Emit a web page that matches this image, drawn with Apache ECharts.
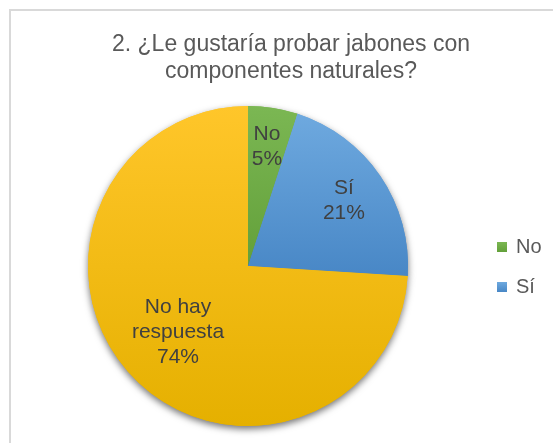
<!DOCTYPE html>
<html>
<head>
<meta charset="utf-8">
<script src="https://cdn.jsdelivr.net/npm/echarts@6/dist/echarts.min.js"></script>
<style>
  html, body { margin: 0; padding: 0; background: #ffffff; }
  #chart { width: 553px; height: 443px; }
</style>
</head>
<body>
<div id="chart"></div>
<script>
// Survey answers, question 2
const categories = ['No', 'Sí', 'No hay respuesta'];
const percents = [5, 21, 74];
// Text lines used inside each slice (before the percentage)
const sliceLabelLines = [['No'], ['Sí'], ['No hay', 'respuesta']];
const legendNames = ['No', 'Sí'];
const titleText = '2. ¿Le gustaría probar jabones con\ncomponentes naturales?';

// Fill colours, light at the top of each slice, darker at the bottom
const sliceColors = [
  ['#7bb753', '#63a03a'],
  ['#6ea9df', '#4887c6'],
  ['#ffc62a', '#e5b000']
];

const FONT = "'Liberation Sans', Arial, sans-serif";
const CENTER = [248, 266];
const RADIUS = 160;
// Inner radius of the (invisible) ring that positions each slice label
const labelRingInner = [76, 66, 26];

function gradient(pair) {
  return new echarts.graphic.LinearGradient(0, 0, 0, 1, [
    { offset: 0, color: pair[0] },
    { offset: 1, color: pair[1] }
  ]);
}

const pieData = categories.map((name, i) => ({
  name: name,
  value: percents[i],
  itemStyle: { color: gradient(sliceColors[i]) }
}));

const baseSeries = {
  type: 'pie',
  center: CENTER,
  startAngle: 90,
  clockwise: true,
  avoidLabelOverlap: false,
  labelLine: { show: false },
  emphasis: { disabled: true },
  animation: false
};

// Shadow layer underneath the pie
const shadowSeries = Object.assign({}, baseSeries, {
  name: 'sombra',
  radius: [0, RADIUS],
  silent: true,
  label: { show: false },
  data: pieData.map(d => ({
    name: d.name,
    value: d.value,
    itemStyle: {
      color: d.itemStyle.color,
      shadowBlur: 7,
      shadowOffsetX: 0,
      shadowOffsetY: 3,
      shadowColor: 'rgba(0,0,0,0.55)'
    }
  }))
});

// The visible slices
const mainSeries = Object.assign({}, baseSeries, {
  name: 'respuestas',
  radius: [0, RADIUS],
  label: { show: false },
  data: pieData
});

// One transparent ring per slice label, so each label sits at its own distance
const labelSeries = categories.map((_, k) => Object.assign({}, baseSeries, {
  name: 'etiqueta' + k,
  radius: [labelRingInner[k], RADIUS],
  silent: true,
  z: 3,
  data: categories.map((name, i) => ({
    name: name,
    value: percents[i],
    itemStyle: { color: 'rgba(0,0,0,0)' },
    label: {
      show: i === k,
      position: 'inside',
      color: '#404040',
      fontFamily: FONT,
      fontSize: 21,
      lineHeight: 25,
      align: 'center',
      formatter: p => sliceLabelLines[p.dataIndex].concat([p.value + '%']).join('\n')
    }
  }))
}));

const chart = echarts.init(document.getElementById('chart'), null, { renderer: 'canvas' });
chart.setOption({
  backgroundColor: '#ffffff',
  animation: false,
  title: {
    text: titleText,
    left: 291,
    top: 31,
    padding: 0,
    textAlign: 'center',
    textStyle: {
      color: '#595959',
      fontFamily: FONT,
      fontSize: 23,
      fontWeight: 'normal',
      lineHeight: 27
    }
  },
  legend: {
    data: legendNames,
    orient: 'vertical',
    left: 497,
    top: 237,
    itemWidth: 10,
    itemHeight: 10,
    itemGap: 20,
    icon: 'rect',
    selectedMode: false,
    padding: 0,
    textStyle: { color: '#595959', fontFamily: FONT, fontSize: 20, padding: [0, 0, 0, 4] }
  },
  graphic: [{
    type: 'rect',
    silent: true,
    z: -10,
    shape: { x: 10, y: 10, width: 700, height: 700 },
    style: { fill: 'none', stroke: '#d9d9d9', lineWidth: 2 }
  }],
  series: [shadowSeries, mainSeries].concat(labelSeries)
});
</script>
</body>
</html>
